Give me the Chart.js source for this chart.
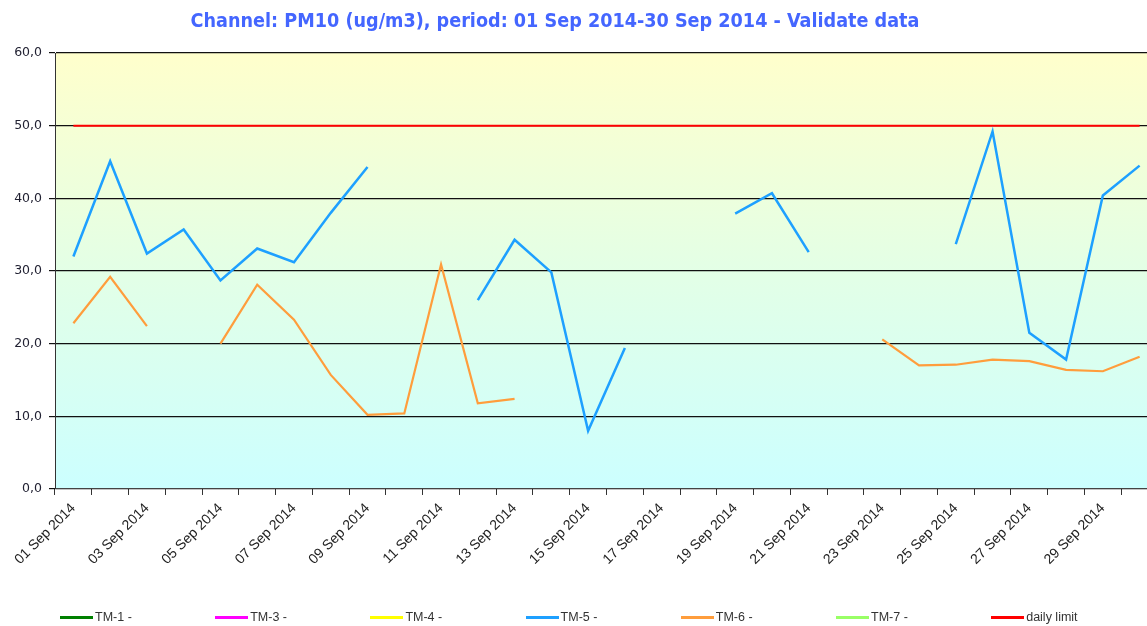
<!DOCTYPE html>
<html>
<head>
<meta charset="utf-8">
<script src="https://cdn.jsdelivr.net/npm/chart.js@4.4.1/dist/chart.umd.min.js"></script>
<style>
  html, body { margin: 0; padding: 0; overflow: hidden; background: #ffffff; width: 1147px; height: 626px; }
  #wrap { position: absolute; left: 0; top: 0; width: 1160px; height: 626px; }
  #title { position: absolute; left: 0; width: 1110px; top: 9px; text-align: center;
           font-family: "DejaVu Sans Condensed", "DejaVu Sans", sans-serif; font-weight: bold;
           font-size: 19.6px; color: #4466ff; white-space: nowrap; }
  #legend { position: absolute; left: 0; top: 609px; width: 1147px; height: 16px;
            font-family: "Liberation Sans", Arial, sans-serif; font-size: 12.5px; color: #333333; }
  .li { position: absolute; top: 0; height: 16px; line-height: 16px; white-space: nowrap; }
  .li span.sw { position: absolute; left: 0; top: 7px; width: 33px; height: 3px; }
  .li span.tx { position: absolute; left: 35px; top: 0; }
</style>
</head>
<body>
<div id="wrap"><canvas id="c"></canvas></div>
<div id="title"></div>
<div id="legend"></div>
<script>
const titleText = "Channel: PM10 (ug/m3), period: 01 Sep 2014-30 Sep 2014  - Validate data";

const categories = [
  "01 Sep 2014","02 Sep 2014","03 Sep 2014","04 Sep 2014","05 Sep 2014","06 Sep 2014",
  "07 Sep 2014","08 Sep 2014","09 Sep 2014","10 Sep 2014","11 Sep 2014","12 Sep 2014",
  "13 Sep 2014","14 Sep 2014","15 Sep 2014","16 Sep 2014","17 Sep 2014","18 Sep 2014",
  "19 Sep 2014","20 Sep 2014","21 Sep 2014","22 Sep 2014","23 Sep 2014","24 Sep 2014",
  "25 Sep 2014","26 Sep 2014","27 Sep 2014","28 Sep 2014","29 Sep 2014","30 Sep 2014"
];

const yTickLabels = ["0,0","10,0","20,0","30,0","40,0","50,0","60,0"];

const seriesNames = ["TM-1 -","TM-3 -","TM-4 -","TM-5 -","TM-6 -","TM-7 -","daily limit"];
const seriesColors = ["#008000","#ff00ff","#ffff00","#1ea0ff","#ff9d3c","#99ff66","#ff0000"];

const tm1 = [];
const tm3 = [];
const tm4 = [];
const tm5 = [32.0,45.1,32.4,35.7,28.7,33.1,31.2,38.0,44.3,null,null,26.0,34.3,29.8,8.0,
             19.4,null,null,37.9,40.7,32.6,null,null,null,33.7,49.2,21.5,17.8,40.4,44.5];
const tm6 = [22.8,29.2,22.4,null,20.0,28.1,23.3,15.7,10.2,10.4,30.9,11.8,12.4,null,null,
             null,null,null,null,null,null,null,20.6,17.0,17.1,17.8,17.6,16.4,16.2,18.2];
const tm7 = [];
const dailyLimit = [50,50,50,50,50,50,50,50,50,50,50,50,50,50,50,
                    50,50,50,50,50,50,50,50,50,50,50,50,50,50,50];

document.getElementById('title').textContent = titleText;

// HTML legend built from the series arrays
const legendEl = document.getElementById('legend');
seriesNames.forEach((n, i) => {
  const d = document.createElement('div');
  d.className = 'li';
  d.style.left = (60 + i * 155.2) + 'px';
  const sw = document.createElement('span');
  sw.className = 'sw';
  sw.style.background = seriesColors[i];
  const tx = document.createElement('span');
  tx.className = 'tx';
  tx.textContent = n;
  d.appendChild(sw); d.appendChild(tx);
  legendEl.appendChild(d);
});

const seriesData = [tm1, tm3, tm4, tm5, tm6, tm7, dailyLimit];
const widths = [2, 2, 2, 2.5, 2.2, 2, 2];

const bgPlugin = {
  id: 'bgGrad',
  beforeDraw(chart) {
    const {ctx, chartArea: a} = chart;
    const g = ctx.createLinearGradient(0, a.top, 0, a.bottom);
    g.addColorStop(0, '#ffffcc');
    g.addColorStop(0.5, '#e3ffe6');
    g.addColorStop(1, '#ccffff');
    ctx.save();
    ctx.fillStyle = g;
    ctx.fillRect(a.left, a.top, a.right - a.left, a.bottom - a.top);
    ctx.restore();
  }
};

new Chart(document.getElementById('c'), {
  type: 'line',
  data: {
    labels: categories,
    datasets: seriesNames.map((n, i) => ({
      label: n,
      data: seriesData[i],
      borderColor: seriesColors[i],
      backgroundColor: seriesColors[i],
      borderWidth: widths[i],
      pointRadius: 0,
      spanGaps: false,
      tension: 0,
      order: i === 6 ? 10 : i
    }))
  },
  plugins: [bgPlugin],
  options: {
    responsive: true,
    maintainAspectRatio: false,
    animation: false,
    layout: { padding: { top: 53, left: 0, right: 2, bottom: 53 } },
    plugins: {
      title: { display: false },
      tooltip: { enabled: false },
      legend: { display: false }
    },
    scales: {
      x: {
        offset: true,
        grid: { display: true, drawOnChartArea: false, offset: true, tickLength: 6, color: '#333333' },
        border: { color: '#444444', width: 1 },
        ticks: {
          autoSkip: false,
          maxRotation: 45,
          minRotation: 45,
          color: '#222222',
          padding: 5,
          font: { family: '"Liberation Sans", Arial, sans-serif', size: 14 },
          callback: (v, i) => (i % 2 === 0 ? categories[i] : '')
        }
      },
      y: {
        min: 0,
        max: 60,
        afterFit(s) { s.width = 55; },
        grid: { color: '#111111', lineWidth: 1.2, tickLength: 6 },
        border: { color: '#333333', width: 1 },
        ticks: {
          stepSize: 10,
          color: '#222233',
          padding: 7,
          font: { family: '"DejaVu Sans", Verdana, sans-serif', size: 12.5 },
          callback: (v) => yTickLabels[Math.round(v / 10)]
        }
      }
    }
  }
});
</script>
</body>
</html>
